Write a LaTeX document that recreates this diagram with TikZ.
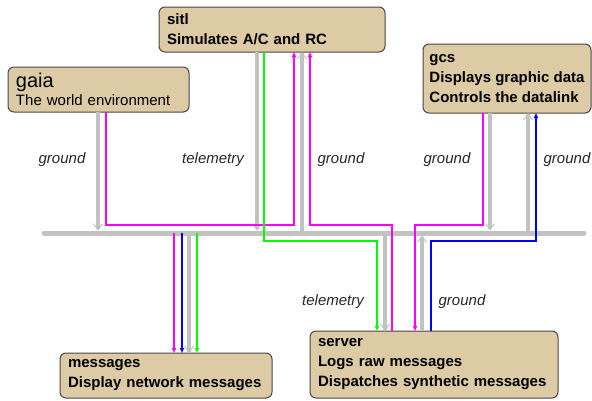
\documentclass[tikz,border=0pt]{standalone}
\usepackage{fontspec}
\setmainfont{Liberation Sans}
\usetikzlibrary{arrows.meta}
\definecolor{boxfill}{RGB}{220,203,165}
\definecolor{boxline}{RGB}{70,70,70}
\definecolor{busgray}{RGB}{194,194,194}
\definecolor{mag}{RGB}{255,0,255}
\definecolor{grn}{RGB}{0,255,0}
\definecolor{blu}{RGB}{0,0,255}
\begin{document}
\begin{tikzpicture}[x=1pt,y=-1pt,
  box/.style={draw=boxline, line width=1pt, fill=boxfill, rounded corners=6pt,
    anchor=north west, align=left, inner xsep=8pt, inner ysep=0pt, outer sep=0pt,
    font=\fontsize{15}{20}\selectfont\bfseries, text=black},
  busline/.style={busgray, line width=5pt, line cap=round},
  flow/.style={busgray, line width=4pt},
  gtip/.style={-{Straight Barb[length=6pt,width=9pt,line width=1pt]}},
  link/.style={line width=1.2pt, -{Triangle[length=5pt,width=4pt]}},
  lbl/.style={font=\fontsize{15}{18}\selectfont\itshape, text=black!85}]
\useasboundingbox (0,0) rectangle (592,400);

% boxes
\node[box, font=\fontsize{15}{18}\selectfont, text width=165pt, minimum width=181pt, minimum height=45pt]
  (gaia) at (8,67) {{\fontsize{20}{20}\selectfont gaia}\\The world environment};
\node[box, text width=210pt, minimum width=226pt, minimum height=45pt]
  (sitl) at (159,7) {sitl\\Simulates A/C and RC};
\node[box, inner xsep=6pt, minimum width=168pt, minimum height=69pt]
  (gcs) at (423,44) {gcs\\Displays graphic data\\Controls the datalink};
\node[box, text width=196pt, minimum width=212pt, minimum height=45pt]
  (messages) at (60,353) {messages\\Display network messages};
\node[box, text width=232pt, minimum width=248pt, minimum height=67pt]
  (server) at (310,331) {server\\Logs raw messages\\Dispatches synthetic messages};

% bus
\coordinate (busL) at (44,233);
\coordinate (busR) at (584,233);
\draw[busline] (busL) -- (busR);

% gray flows
\draw[flow,gtip,shorten >=2.5pt] (98,0 |- gaia.south) -- (98,0 |- busL);
\draw[flow,gtip,shorten >=2.5pt] (257,0 |- sitl.south) -- (257,0 |- busL);
\draw[flow,gtip] (302,0 |- busL) -- (302,0 |- sitl.south);
\draw[flow,gtip,shorten >=2.5pt] (490,0 |- gcs.south) -- (490,0 |- busL);
\draw[flow,gtip] (528,0 |- busL) -- (528,0 |- gcs.south);
\draw[flow,gtip] (385,0 |- busL) -- (385,0 |- server.north);
\draw[flow,gtip,shorten >=2.5pt] (422,0 |- server.north) -- (422,0 |- busL);
\draw[flow,gtip] (189,0 |- busL) -- (189,0 |- messages.north);

% colored links
\draw[link,mag] (106,0 |- gaia.south) |- (294,225) -- (294,0 |- sitl.south);
\draw[link,grn] (264,0 |- sitl.south) |- (377,241) -- (377,0 |- server.north);
\draw[link,mag] (392,0 |- server.north) |- (310,225) -- (310,0 |- sitl.south);
\draw[link,mag] (483,0 |- gcs.south) |- (415,225) -- (415,0 |- server.north);
\draw[link,blu] (431,0 |- server.north) |- (536,241) -- (536,0 |- gcs.south);

\draw[link,mag] (174,0 |- busL) -- (174,0 |- messages.north);
\draw[link,blu] (182,0 |- busL) -- (182,0 |- messages.north);
\draw[link,grn] (197,0 |- busL) -- (197,0 |- messages.north);

% labels
\node[lbl] (l1) at (62,160) {ground};
\node[lbl] (l2) at (213,160) {telemetry};
\node[lbl] (l3) at (341,160) {ground};
\node[lbl] (l4) at (447,160) {ground};
\node[lbl] (l5) at (567,160) {ground};
\node[lbl] (l6) at (333,302) {telemetry};
\node[lbl] (l7) at (462,302) {ground};
\end{tikzpicture}
\end{document}
